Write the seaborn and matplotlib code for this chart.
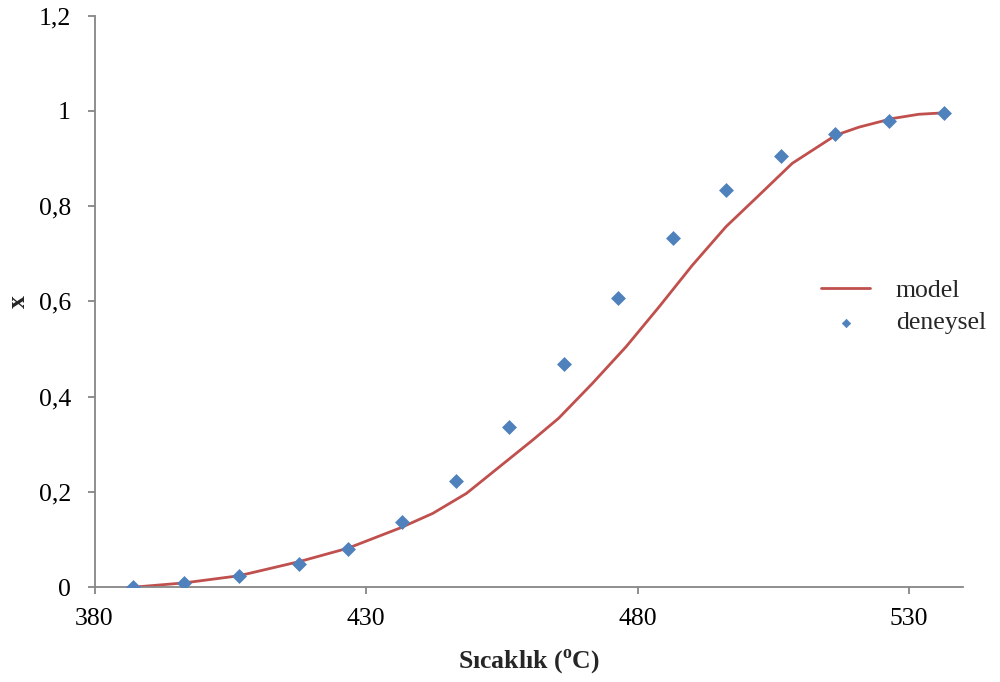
import matplotlib
matplotlib.use("Agg")
import matplotlib.pyplot as plt
import seaborn as sns
import pandas as pd

# Experimental data (deneysel)
exp_T = [387.1, 396.5, 406.6, 417.6, 426.6, 436.6, 446.6, 456.4, 466.5, 476.5,
         486.5, 496.3, 506.4, 516.4, 526.4, 536.4]
exp_x = [0.001, 0.008, 0.023, 0.048, 0.080, 0.137, 0.223, 0.336, 0.469, 0.608,
         0.733, 0.835, 0.906, 0.952, 0.979, 0.995]

# Model curve
model_T = [387.1, 396.5, 406.6, 417.8, 426.7, 436.2, 442.3, 448.5, 454.6, 460.7,
           465.5, 471.7, 477.9, 484.0, 490.1, 496.3, 502.1, 508.5, 516.5, 520.8,
           526.9, 531.8, 536.4]
model_x = [0.000, 0.009, 0.024, 0.054, 0.082, 0.124, 0.155, 0.197, 0.253, 0.309,
           0.355, 0.428, 0.505, 0.589, 0.676, 0.757, 0.820, 0.890, 0.949, 0.966,
           0.984, 0.993, 0.996]

x_ticks = [380, 430, 480, 530]
y_ticks = [0, 0.2, 0.4, 0.6, 0.8, 1.0, 1.2]
y_tick_labels = ["0", "0,2", "0,4", "0,6", "0,8", "1", "1,2"]

sns.set_style("white")
plt.rcParams["font.family"] = ["Liberation Serif", "DejaVu Serif"]
plt.rcParams["mathtext.fontset"] = "custom"
plt.rcParams["mathtext.rm"] = "Liberation Serif"
plt.rcParams["mathtext.bf"] = "Liberation Serif:bold"

fig = plt.figure(figsize=(10, 6.82), dpi=100)
ax = fig.add_axes([0.0945, 0.139, 0.8688, 0.838])

model_df = pd.DataFrame({"T": model_T, "x": model_x})
exp_df = pd.DataFrame({"T": exp_T, "x": exp_x})

sns.lineplot(data=model_df, x="T", y="x", ax=ax, color="#C0504D", linewidth=2.0,
             label="model", sort=False)
sns.scatterplot(data=exp_df, x="T", y="x", ax=ax, color="#4F81BD", marker="D",
                s=50, edgecolor="#4F81BD", linewidth=0.5, label="deneysel", zorder=3)

ax.set_xlim(380, 540)
ax.set_ylim(0, 1.2)
ax.set_xticks(x_ticks)
ax.set_xticklabels([str(t) for t in x_ticks])
ax.set_yticks(y_ticks)
ax.set_yticklabels(y_tick_labels)

for side in ["top", "right"]:
    ax.spines[side].set_visible(False)
for side in ["left", "bottom"]:
    ax.spines[side].set_color("#868686")
    ax.spines[side].set_linewidth(1.3)

ax.tick_params(axis="both", which="major", direction="out", length=5, width=1.3,
               color="#868686", labelsize=18.5, labelcolor="black")
ax.tick_params(axis="y", pad=12)
ax.tick_params(axis="x", pad=10)
ax.tick_params(left=True, bottom=True)

ax.set_xlabel(r"Sıcaklık ($^{\mathbf{o}}$C)", fontsize=18.5, fontweight="bold")
ax.set_ylabel("x", fontsize=18.5, fontweight="bold")
ax.xaxis.set_label_coords(0.5, -0.105)
ax.yaxis.set_label_coords(-0.074, 0.5)

ax.legend(loc="center left", bbox_to_anchor=(0.798, 0.55), bbox_transform=fig.transFigure,
          frameon=False, fontsize=18.5, handlelength=1.9, handletextpad=1.0,
          labelspacing=0.35, markerscale=0.6)

fig.savefig("out.png", dpi=100)
